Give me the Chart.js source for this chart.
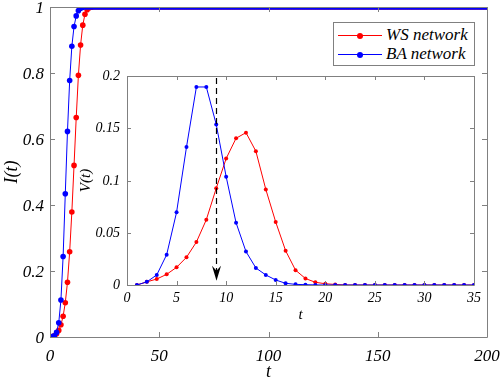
<!DOCTYPE html>
<html>
<head>
<meta charset="utf-8">
<script src="https://cdn.jsdelivr.net/npm/chart.js@4/dist/chart.umd.min.js"></script>
<style>
  body { margin: 0; background: #fff; }
  #wrap { position: relative; width: 500px; height: 385px; overflow: hidden; }
  #mainChart, #mainTicks { position: absolute; left: 0; top: 0; }
  #insetChart, #insetTicks { position: absolute; left: 70px; top: 60px; }
  .tickLayer { width: 0; height: 0; pointer-events: none; }
  .tk {
    position: absolute; white-space: nowrap; line-height: 1;
    font-family: "Liberation Serif", serif; font-style: italic; color: #000;
  }
  #legend {
    position: absolute; left: 333px; top: 22px; width: 140px; height: 42px;
    border: 1px solid #808080; background: #fff;
    font-family: "Liberation Serif", serif; font-style: italic; font-size: 17px;
  }
  .row { position: absolute; left: 0; height: 20px; line-height: 20px; white-space: nowrap; }
  .sample { position: absolute; left: 4px; top: 10px; width: 44px; height: 1px; }
  .dot { position: absolute; left: 19px; top: -2.5px; width: 6px; height: 6px; border-radius: 50%; }
  .lbl { position: absolute; left: 52px; top: 0; }
</style>
</head>
<body>
<div id="wrap">
  <canvas id="mainChart" width="500" height="385"></canvas>
  <div id="mainTicks" class="tickLayer"></div>
  <canvas id="insetChart" width="420" height="270"></canvas>
  <div id="insetTicks" class="tickLayer"></div>
  <div id="legend">
    <div class="row" style="top:2px"><div class="sample" style="background:#ff0000"><div class="dot" style="background:#ff0000"></div></div><span class="lbl">WS network</span></div>
    <div class="row" style="top:21px"><div class="sample" style="background:#0000ff"><div class="dot" style="background:#0000ff"></div></div><span class="lbl">BA network</span></div>
  </div>
</div>
<script>
const mainCanvas = document.getElementById('mainChart');
const insetCanvas = document.getElementById('insetChart');
const mainTicks = document.getElementById('mainTicks');
const insetTicks = document.getElementById('insetTicks');

// time steps
const tMain = Array.from({length: 201}, (_, i) => i);
const tInset = Array.from({length: 35}, (_, i) => i + 1);

// I(t), t = 0..200
const wsI = [0.001,0.001,0.004,0.0097,0.020,0.037,0.063,0.104,0.166,0.258,0.379,0.520,0.665,0.793,0.885,0.945,0.978,0.992,0.998,0.9995,1,
  1,1,1,1,1,1,1,1,1,1,1,1,1,1,1,1,1,1,1,1,
  1,1,1,1,1,1,1,1,1,1,1,1,1,1,1,1,1,1,1,1,
  1,1,1,1,1,1,1,1,1,1,1,1,1,1,1,1,1,1,1,1,
  1,1,1,1,1,1,1,1,1,1,1,1,1,1,1,1,1,1,1,1,
  1,1,1,1,1,1,1,1,1,1,1,1,1,1,1,1,1,1,1,1,
  1,1,1,1,1,1,1,1,1,1,1,1,1,1,1,1,1,1,1,1,
  1,1,1,1,1,1,1,1,1,1,1,1,1,1,1,1,1,1,1,1,
  1,1,1,1,1,1,1,1,1,1,1,1,1,1,1,1,1,1,1,1,
  1,1,1,1,1,1,1,1,1,1,1,1,1,1,1,1,1,1,1,1];
const baI = [0.001,0.001,0.004,0.014,0.043,0.112,0.244,0.434,0.623,0.777,0.881,0.941,0.973,0.989,0.996,0.999,1,1,1,1,1,
  1,1,1,1,1,1,1,1,1,1,1,1,1,1,1,1,1,1,1,1,
  1,1,1,1,1,1,1,1,1,1,1,1,1,1,1,1,1,1,1,1,
  1,1,1,1,1,1,1,1,1,1,1,1,1,1,1,1,1,1,1,1,
  1,1,1,1,1,1,1,1,1,1,1,1,1,1,1,1,1,1,1,1,
  1,1,1,1,1,1,1,1,1,1,1,1,1,1,1,1,1,1,1,1,
  1,1,1,1,1,1,1,1,1,1,1,1,1,1,1,1,1,1,1,1,
  1,1,1,1,1,1,1,1,1,1,1,1,1,1,1,1,1,1,1,1,
  1,1,1,1,1,1,1,1,1,1,1,1,1,1,1,1,1,1,1,1,
  1,1,1,1,1,1,1,1,1,1,1,1,1,1,1,1,1,1,1,1];

// V(t), t = 1..35
const wsV = [0,0.003,0.0057,0.0102,0.0169,0.0265,0.0411,0.0625,0.0925,0.121,0.1404,0.1458,0.128,0.0915,0.0603,0.0328,0.0142,0.0062,0.0026,0.0012,0.0005,
  0,0,0,0,0,0,0,0,0,0,0,0,0,0];
const baV = [0,0.003,0.0096,0.029,0.0696,0.132,0.1895,0.1895,0.1537,0.1037,0.0596,0.032,0.0163,0.0096,0.0048,0.0016,0.0006,0.0003,0.0001,
  0,0,0,0,0,0,0,0,0,0,0,0,0,0,0,0];

const mainXTicks = [0, 50, 100, 150, 200];
const mainYTicks = [0, 0.2, 0.4, 0.6, 0.8, 1];
const insetXTicks = [0, 5, 10, 15, 20, 25, 30, 35];
const insetYTicks = [0, 0.05, 0.1, 0.15, 0.2];

// dashed arrow in the inset: at t = 9, from top down to near zero
const arrowT = 9;
const arrowFrom = 0.198;
const arrowTo = 0.004;

const RED = '#ff0000';
const BLUE = '#0000ff';
const AXIS = '#808080';
const SERIF = '"Liberation Serif", serif';

function pts(xs, ys) {
    return xs.map((x, i) => ({x: x, y: ys[i]}));
}

function fmt(v) {
    return String(+v.toFixed(4));
}

function font(size) {
    return {family: SERIF, style: 'italic', size: size};
}

function fixedTicks(list) {
    return function (scale) {
        scale.ticks = list.map(v => ({value: v}));
    };
}

// box round the axes with inward ticks on all four sides
function framePlugin(tickLen) {
    return {
        id: 'frame',
        afterDraw(chart) {
            const {ctx, chartArea: a, scales} = chart;
            ctx.save();
            ctx.strokeStyle = AXIS;
            ctx.lineWidth = 1;
            ctx.beginPath();
            ctx.rect(Math.round(a.left) + 0.5, Math.round(a.top) + 0.5,
                Math.round(a.right - a.left), Math.round(a.bottom - a.top));
            scales.x.ticks.forEach(t => {
                const px = Math.round(scales.x.getPixelForValue(t.value)) + 0.5;
                ctx.moveTo(px, a.bottom); ctx.lineTo(px, a.bottom - tickLen);
                ctx.moveTo(px, a.top); ctx.lineTo(px, a.top + tickLen);
            });
            scales.y.ticks.forEach(t => {
                const py = Math.round(scales.y.getPixelForValue(t.value)) + 0.5;
                ctx.moveTo(a.left, py); ctx.lineTo(a.left + tickLen, py);
                ctx.moveTo(a.right, py); ctx.lineTo(a.right - tickLen, py);
            });
            ctx.stroke();
            ctx.restore();
        }
    };
}

// tick labels as page text, placed from the chart's own scales
function tickTextPlugin(layer, size, xGap, yGap) {
    return {
        id: 'tickText',
        afterDraw(chart) {
            const {chartArea: a, scales} = chart;
            layer.innerHTML = '';
            scales.x.ticks.forEach(t => {
                const s = document.createElement('span');
                s.className = 'tk';
                s.textContent = fmt(t.value);
                s.style.fontSize = size + 'px';
                s.style.left = scales.x.getPixelForValue(t.value) + 'px';
                s.style.top = (a.bottom + xGap) + 'px';
                s.style.transform = 'translate(-50%, -50%)';
                layer.appendChild(s);
            });
            scales.y.ticks.forEach(t => {
                const s = document.createElement('span');
                s.className = 'tk';
                s.textContent = fmt(t.value);
                s.style.fontSize = size + 'px';
                s.style.left = (a.left - yGap) + 'px';
                s.style.top = scales.y.getPixelForValue(t.value) + 'px';
                s.style.transform = 'translate(-100%, -50%)';
                layer.appendChild(s);
            });
        }
    };
}

const arrowPlugin = {
    id: 'arrow',
    afterDatasetsDraw(chart) {
        const {ctx, scales} = chart;
        const x = Math.round(scales.x.getPixelForValue(arrowT)) + 0.5;
        const y0 = scales.y.getPixelForValue(arrowFrom);
        const y1 = scales.y.getPixelForValue(arrowTo);
        ctx.save();
        ctx.strokeStyle = '#000';
        ctx.lineWidth = 1.2;
        ctx.setLineDash([6, 4]);
        ctx.beginPath();
        ctx.moveTo(x, y0);
        ctx.lineTo(x, y1 - 8);
        ctx.stroke();
        ctx.setLineDash([]);
        ctx.fillStyle = '#000';
        ctx.beginPath();
        ctx.moveTo(x, y1);
        ctx.lineTo(x - 4.5, y1 - 15);
        ctx.lineTo(x, y1 - 10);
        ctx.lineTo(x + 4.5, y1 - 15);
        ctx.closePath();
        ctx.fill();
        ctx.restore();
    }
};

function lineSet(label, data, color, r) {
    return {
        label: label,
        data: data,
        borderColor: color,
        backgroundColor: color,
        borderWidth: 1,
        pointRadius: r,
        pointBorderWidth: 0,
        pointBackgroundColor: color,
        tension: 0
    };
}

function axis(min, max, tickList, boxSize, isX, titleText, titleSize, titlePad) {
    return {
        type: 'linear', min: min, max: max,
        afterBuildTicks: fixedTicks(tickList),
        afterFit(s) {
            if (isX) { s.height = boxSize; s.paddingLeft = 0; s.paddingRight = 0; }
            else { s.width = boxSize; s.paddingTop = 0; s.paddingBottom = 0; }
        },
        grid: {display: false, drawTicks: false},
        border: {display: false},
        ticks: {display: false},
        title: {display: true, text: titleText, color: '#000', font: font(titleSize), padding: titlePad}
    };
}

// blue listed first so that it is drawn on top of red
new Chart(mainCanvas, {
    type: 'line',
    data: {
        datasets: [
            lineSet('BA network', pts(tMain, baI), BLUE, 2.8),
            lineSet('WS network', pts(tMain, wsI), RED, 2.8)
        ]
    },
    options: {
        responsive: false,
        animation: false,
        devicePixelRatio: 1,
        layout: {padding: {top: 7, right: 13, left: 0, bottom: 0}},
        plugins: {legend: {display: false}, tooltip: {enabled: false}},
        scales: {
            x: axis(0, 200, mainXTicks, 48, true, 't', 18, {top: 0, bottom: 2}),
            y: axis(0, 1, mainYTicks, 50, false, 'I(t)', 18, {top: 1, bottom: 0})
        }
    },
    plugins: [framePlugin(5), tickTextPlugin(mainTicks, 17, 18, 6)]
});

new Chart(insetCanvas, {
    type: 'line',
    data: {
        datasets: [
            lineSet('BA network', pts(tInset, baV), BLUE, 2),
            lineSet('WS network', pts(tInset, wsV), RED, 2)
        ]
    },
    options: {
        responsive: false,
        animation: false,
        devicePixelRatio: 1,
        layout: {padding: {top: 16, right: 16, left: 0, bottom: 0}},
        plugins: {legend: {display: false}, tooltip: {enabled: false}},
        scales: {
            x: axis(0, 35, insetXTicks, 45, true, 't', 15, {top: 0, bottom: 6}),
            y: axis(0, 0.2, insetYTicks, 57, false, 'V(t)', 15, {top: 7, bottom: 0})
        }
    },
    plugins: [framePlugin(4), tickTextPlugin(insetTicks, 14, 13, 7), arrowPlugin]
});
</script>
</body>
</html>
